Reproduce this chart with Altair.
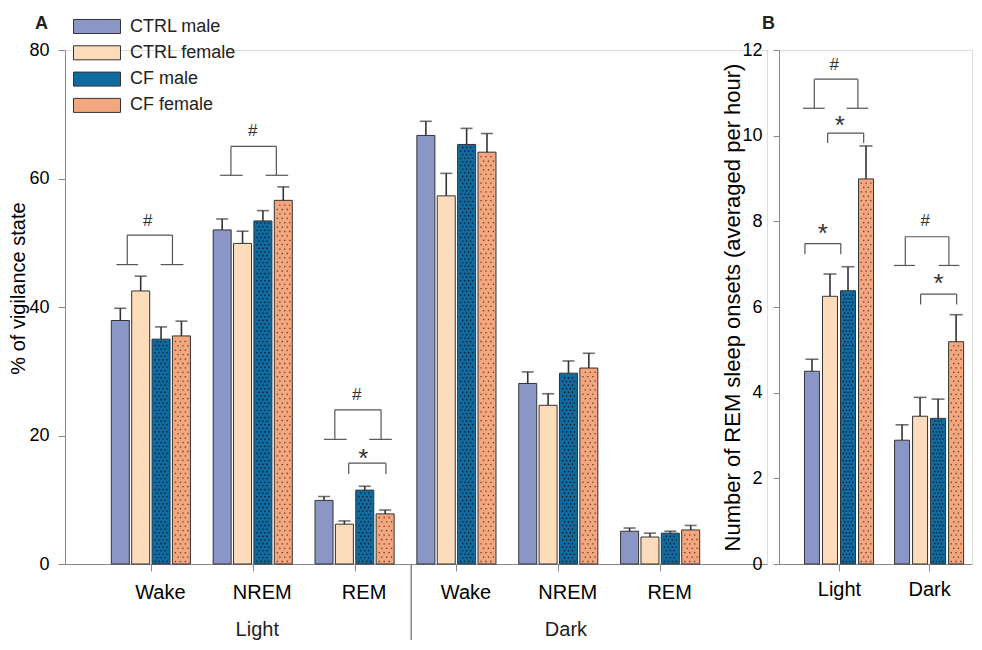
import json
import altair as alt
import pandas as pd

FONT = "Liberation Sans"

groups = ["CTRL male", "CTRL female", "CF male", "CF female"]
group_colors = ["#8A96C6", "#FCDCBB", "#0F6AA0", "#F4A67E"]

# ---- Panel A: % of vigilance state ----
state_labels = ["Wake", "NREM", "REM", "Wake", "NREM", "REM"]
period_labels = ["Light", "Dark"]
pct_mean = {
    "CTRL male":   [37.9, 52.0, 9.9, 66.7, 28.1, 5.1],
    "CTRL female": [42.5, 49.9, 6.2, 57.3, 24.7, 4.2],
    "CF male":     [35.0, 53.4, 11.5, 65.3, 29.7, 4.8],
    "CF female":   [35.5, 56.6, 7.8, 64.1, 30.5, 5.3],
}
pct_sem = {
    "CTRL male":   [1.9, 1.7, 0.6, 2.2, 1.8, 0.5],
    "CTRL female": [2.3, 1.9, 0.5, 3.5, 1.8, 0.6],
    "CF male":     [1.9, 1.6, 0.6, 2.5, 1.9, 0.3],
    "CF female":   [2.3, 2.1, 0.6, 2.9, 2.3, 0.7],
}

# ---- Panel B: REM sleep onsets ----
onset_labels = ["Light", "Dark"]
onset_mean = {
    "CTRL male":   [4.50, 2.89],
    "CTRL female": [6.25, 3.45],
    "CF male":     [6.38, 3.40],
    "CF female":   [8.99, 5.19],
}
onset_sem = {
    "CTRL male":   [0.28, 0.36],
    "CTRL female": [0.52, 0.44],
    "CF male":     [0.56, 0.45],
    "CF female":   [0.77, 0.63],
}

# significance annotations, in bar-index units within a category
# (cat, left vertical, right vertical, left foot, right foot, y top, y feet, text x, text y)
A_hash = [
    (0, 0.34, 2.56, (-0.19, 0.87), (1.98, 3.10), 51.2, 46.6, 1.35, 53.5),
    (1, 0.43, 2.66, (-0.10, 1.01), (2.13, 3.24), 65.0, 60.5, 1.50, 67.5),
    (2, 0.53, 2.80, (0.00, 1.11), (2.22, 3.33), 24.0, 19.4, 1.60, 26.4),
]
# (cat, left, right, y top, y legs, text x, text y)
A_star = [(2, 1.21, 3.04, 15.7, 14.0, 1.93, 17.4)]
B_hash = [
    (0, 0.13, 2.55, (-0.50, 0.71), (1.92, 3.13), 11.32, 10.64, 1.24, 11.67),
    (1, 0.18, 2.60, (-0.45, 0.71), (2.03, 3.18), 7.64, 6.97, 1.29, 8.02),
]
B_star = [
    (0, 0.87, 2.87, 10.06, 9.83, 1.55, 10.39),
    (0, -0.39, 1.60, 7.48, 7.23, 0.60, 7.87),
    (1, 1.03, 3.03, 6.30, 6.06, 2.03, 6.70),
]

BAR_STEP = 0.2  # bar spacing in category units


def xpos(cat, u):
    return cat + (u - 1.5) * BAR_STEP


def bar_frame(means, sems, ncat):
    rows = []
    for gi, g in enumerate(groups):
        for c in range(ncat):
            m = means[g][c]
            rows.append({"group": g, "pos": xpos(c, gi), "value": m, "top": m + sems[g][c]})
    return pd.DataFrame(rows)


def annot_frames(hashes, stars):
    segs, texts = [], []
    for (c, vl, vr, fl, fr, yt, yf, tx, ty) in hashes:
        segs += [
            (xpos(c, vl), xpos(c, vr), yt, yt),
            (xpos(c, vl), xpos(c, vl), yf, yt),
            (xpos(c, vr), xpos(c, vr), yf, yt),
            (xpos(c, fl[0]), xpos(c, fl[1]), yf, yf),
            (xpos(c, fr[0]), xpos(c, fr[1]), yf, yf),
        ]
        texts.append({"x": xpos(c, tx), "y": ty, "t": "#"})
    stexts = []
    for (c, a, b, yt, yl, tx, ty) in stars:
        segs += [
            (xpos(c, a), xpos(c, b), yt, yt),
            (xpos(c, a), xpos(c, a), yl, yt),
            (xpos(c, b), xpos(c, b), yl, yt),
        ]
        stexts.append({"x": xpos(c, tx), "y": ty, "t": "*"})
    seg = pd.DataFrame(segs, columns=["x1", "x2", "y1", "y2"])
    return seg, pd.DataFrame(texts), pd.DataFrame(stexts)


def texture(df, xppu, yppu, patterns):
    """Dot-fill texture for the CF bars (pattern fill imitation)."""
    pts = []
    for _, r in df.iterrows():
        if r["group"] not in patterns:
            continue
        row_px, cols_even, cols_odd, tone = patterns[r["group"]]
        h = r["value"] * yppu
        y, k = 2.5, 0
        while y < h - 2.0:
            cols = cols_even if k % 2 == 0 else cols_odd
            for cx in cols:
                pts.append({"x": r["pos"] + cx / xppu, "y": y / yppu, "tone": tone})
            y += row_px
            k += 1
    return pd.DataFrame(pts)


def panel(df, seg, htxt, stxt, tex, xdom, ydom, yvals, xlabels, ytitle, ytitle_size,
          barsize, capsize, labeloffset, xlabelpad, ylabelpad,
          ytitlepad, ytick, legend, letter, letter_x, title_y=None):
    xs = alt.Scale(domain=xdom, nice=False, zero=False)
    ys = alt.Scale(domain=ydom, nice=False, zero=False)
    xaxis = alt.Axis(values=list(range(len(xlabels))),
                     labelExpr=json.dumps(xlabels) + "[round(datum.value)]",
                     tickSize=7, labelFontSize=20, labelPadding=xlabelpad,
                     labelOffset=labeloffset, grid=False, labelFlush=False)
    ykw = dict(values=yvals, titleFontSize=ytitle_size,
               titleFontWeight="normal", titlePadding=ytitlepad, tickSize=ytick,
               labelFontSize=18, labelPadding=ylabelpad, grid=False)
    if title_y is not None:
        ykw["titleY"] = title_y
    yaxis = alt.Axis(**ykw)

    def X(f, **k):
        return alt.X(f, title=None, **k)

    def Y(f, **k):
        return alt.Y(f, title=ytitle, **k)

    base = alt.Chart(df)
    fill = alt.Fill("group:N", scale=alt.Scale(domain=groups, range=group_colors),
                    legend=legend)
    bars = base.mark_bar(size=barsize, stroke="#333333", strokeWidth=1).encode(
        x=X("pos:Q", scale=xs, axis=xaxis),
        y=Y("value:Q", scale=ys, axis=yaxis),
        fill=fill,
    )
    dots = alt.Chart(tex).mark_square(size=1.7, opacity=0.9, strokeWidth=0).encode(
        x=X("x:Q"), y=Y("y:Q"),
        color=alt.Color("tone:N", scale=None, legend=None))
    err = base.mark_rule(color="#333333", strokeWidth=1.6).encode(
        x=X("pos:Q"), y=Y("value:Q"), y2="top:Q")
    cap = base.mark_tick(orient="horizontal", size=capsize, thickness=1.6,
                         color="#333333").encode(x=X("pos:Q"), y=Y("top:Q"))
    brk = alt.Chart(seg).mark_rule(color="#555555", strokeWidth=1.2).encode(
        x=X("x1:Q"), x2="x2:Q", y=Y("y1:Q"), y2="y2:Q")
    ht = alt.Chart(htxt).mark_text(font=FONT, fontSize=17, color="#333333",
                                   baseline="alphabetic", dy=6).encode(
        x=X("x:Q"), y=Y("y:Q"), text="t:N")
    st = alt.Chart(stxt).mark_text(font=FONT, fontSize=26, color="#333333",
                                   baseline="alphabetic", dy=15).encode(
        x=X("x:Q"), y=Y("y:Q"), text="t:N")
    lt = alt.Chart(pd.DataFrame({"t": [letter]})).mark_text(
        font=FONT, fontSize=18, fontWeight="bold", color="#222222", align="left",
        baseline="alphabetic").encode(x=alt.value(letter_x), y=alt.value(-21), text="t:N")
    return [bars, dots, err, cap, brk, ht, st, lt], X


dfA = bar_frame(pct_mean, pct_sem, 6)
segA, htA, stA = annot_frames(A_hash, A_star)
dfB = bar_frame(onset_mean, onset_sem, 2)
segB, htB, stB = annot_frames(B_hash, B_star)

XDOM_A, XDOM_B = [-0.794, 6.0], [-0.6105, 1.421]
W_A, W_B, H = 702, 193, 514

texA = texture(dfA, W_A / (XDOM_A[1] - XDOM_A[0]), H / 80, {
    "CF male": (3.6, [-6, -2, 2, 6], [-4, 0, 4], "#111111"),
    "CF female": (4.4, [-6, -1, 4], [-3.5, 1.5, 6.5], "#4a3328"),
})
texB = texture(dfB, W_B / (XDOM_B[1] - XDOM_B[0]), H / 12, {
    "CF male": (3.6, [-5, -1.7, 1.7, 5], [-3.4, 0, 3.4], "#111111"),
    "CF female": (4.4, [-5, 0, 5], [-2.5, 2.5], "#4a3328"),
})

legend = alt.Legend(title=None, orient="none", legendX=22.5, legendY=-33,
                    symbolType="M-2.61,-0.78H2.61V0.78H-2.61Z", symbolSize=324,
                    symbolStrokeColor="#333333", symbolStrokeWidth=1,
                    labelFontSize=18, labelFont=FONT, labelColor="#222222",
                    labelOffset=23.5, rowPadding=7.3)

layersA, XA = panel(dfA, segA, htA, stA, texA, XDOM_A, [0, 80], [0, 20, 40, 60, 80],
                    state_labels, "% of vigilance state", 20, 18, 12, 9, 11, 9,
                    0, 7, legend, "A", -30, title_y=238)

# group labels and separator under panel A
grp = pd.DataFrame({"x": [1.045, 4.075], "t": period_labels})
grp_text = alt.Chart(grp).mark_text(font=FONT, fontSize=20, color="#222222",
                                    baseline="alphabetic").encode(
    x=XA("x:Q"), y=alt.value(586), text="t:N")
sep = alt.Chart(pd.DataFrame({"x": [2.556]})).mark_rule(color="#888888", strokeWidth=1.5).encode(
    x=XA("x:Q"), y=alt.value(515), y2=alt.value(590))

chartA = alt.layer(*layersA, grp_text, sep).properties(width=W_A, height=H)

layersB, XB = panel(dfB, segB, htB, stB, texB, XDOM_B, [0, 12], [0, 2, 4, 6, 8, 10, 12],
                    onset_labels, "Number of REM sleep onsets (averaged per hour)", 22,
                    15, 13, 0, 8, 11, -3, 6, None, "B", -17)
chartB = alt.layer(*layersB).properties(width=W_B, height=H)

chart = alt.hconcat(chartA, chartB, spacing=-47).properties(
    padding={"left": 0, "top": 6, "right": 0, "bottom": 0}
).configure_view(strokeWidth=0).configure_axis(
    domainColor="#333333", tickColor="#333333", labelColor="#222222",
    titleColor="#222222", labelFont=FONT, titleFont=FONT, domainWidth=1.2, tickWidth=1.2
).configure(background="white")

chart.save("out.html", embed_options={"renderer": "svg", "actions": False})
